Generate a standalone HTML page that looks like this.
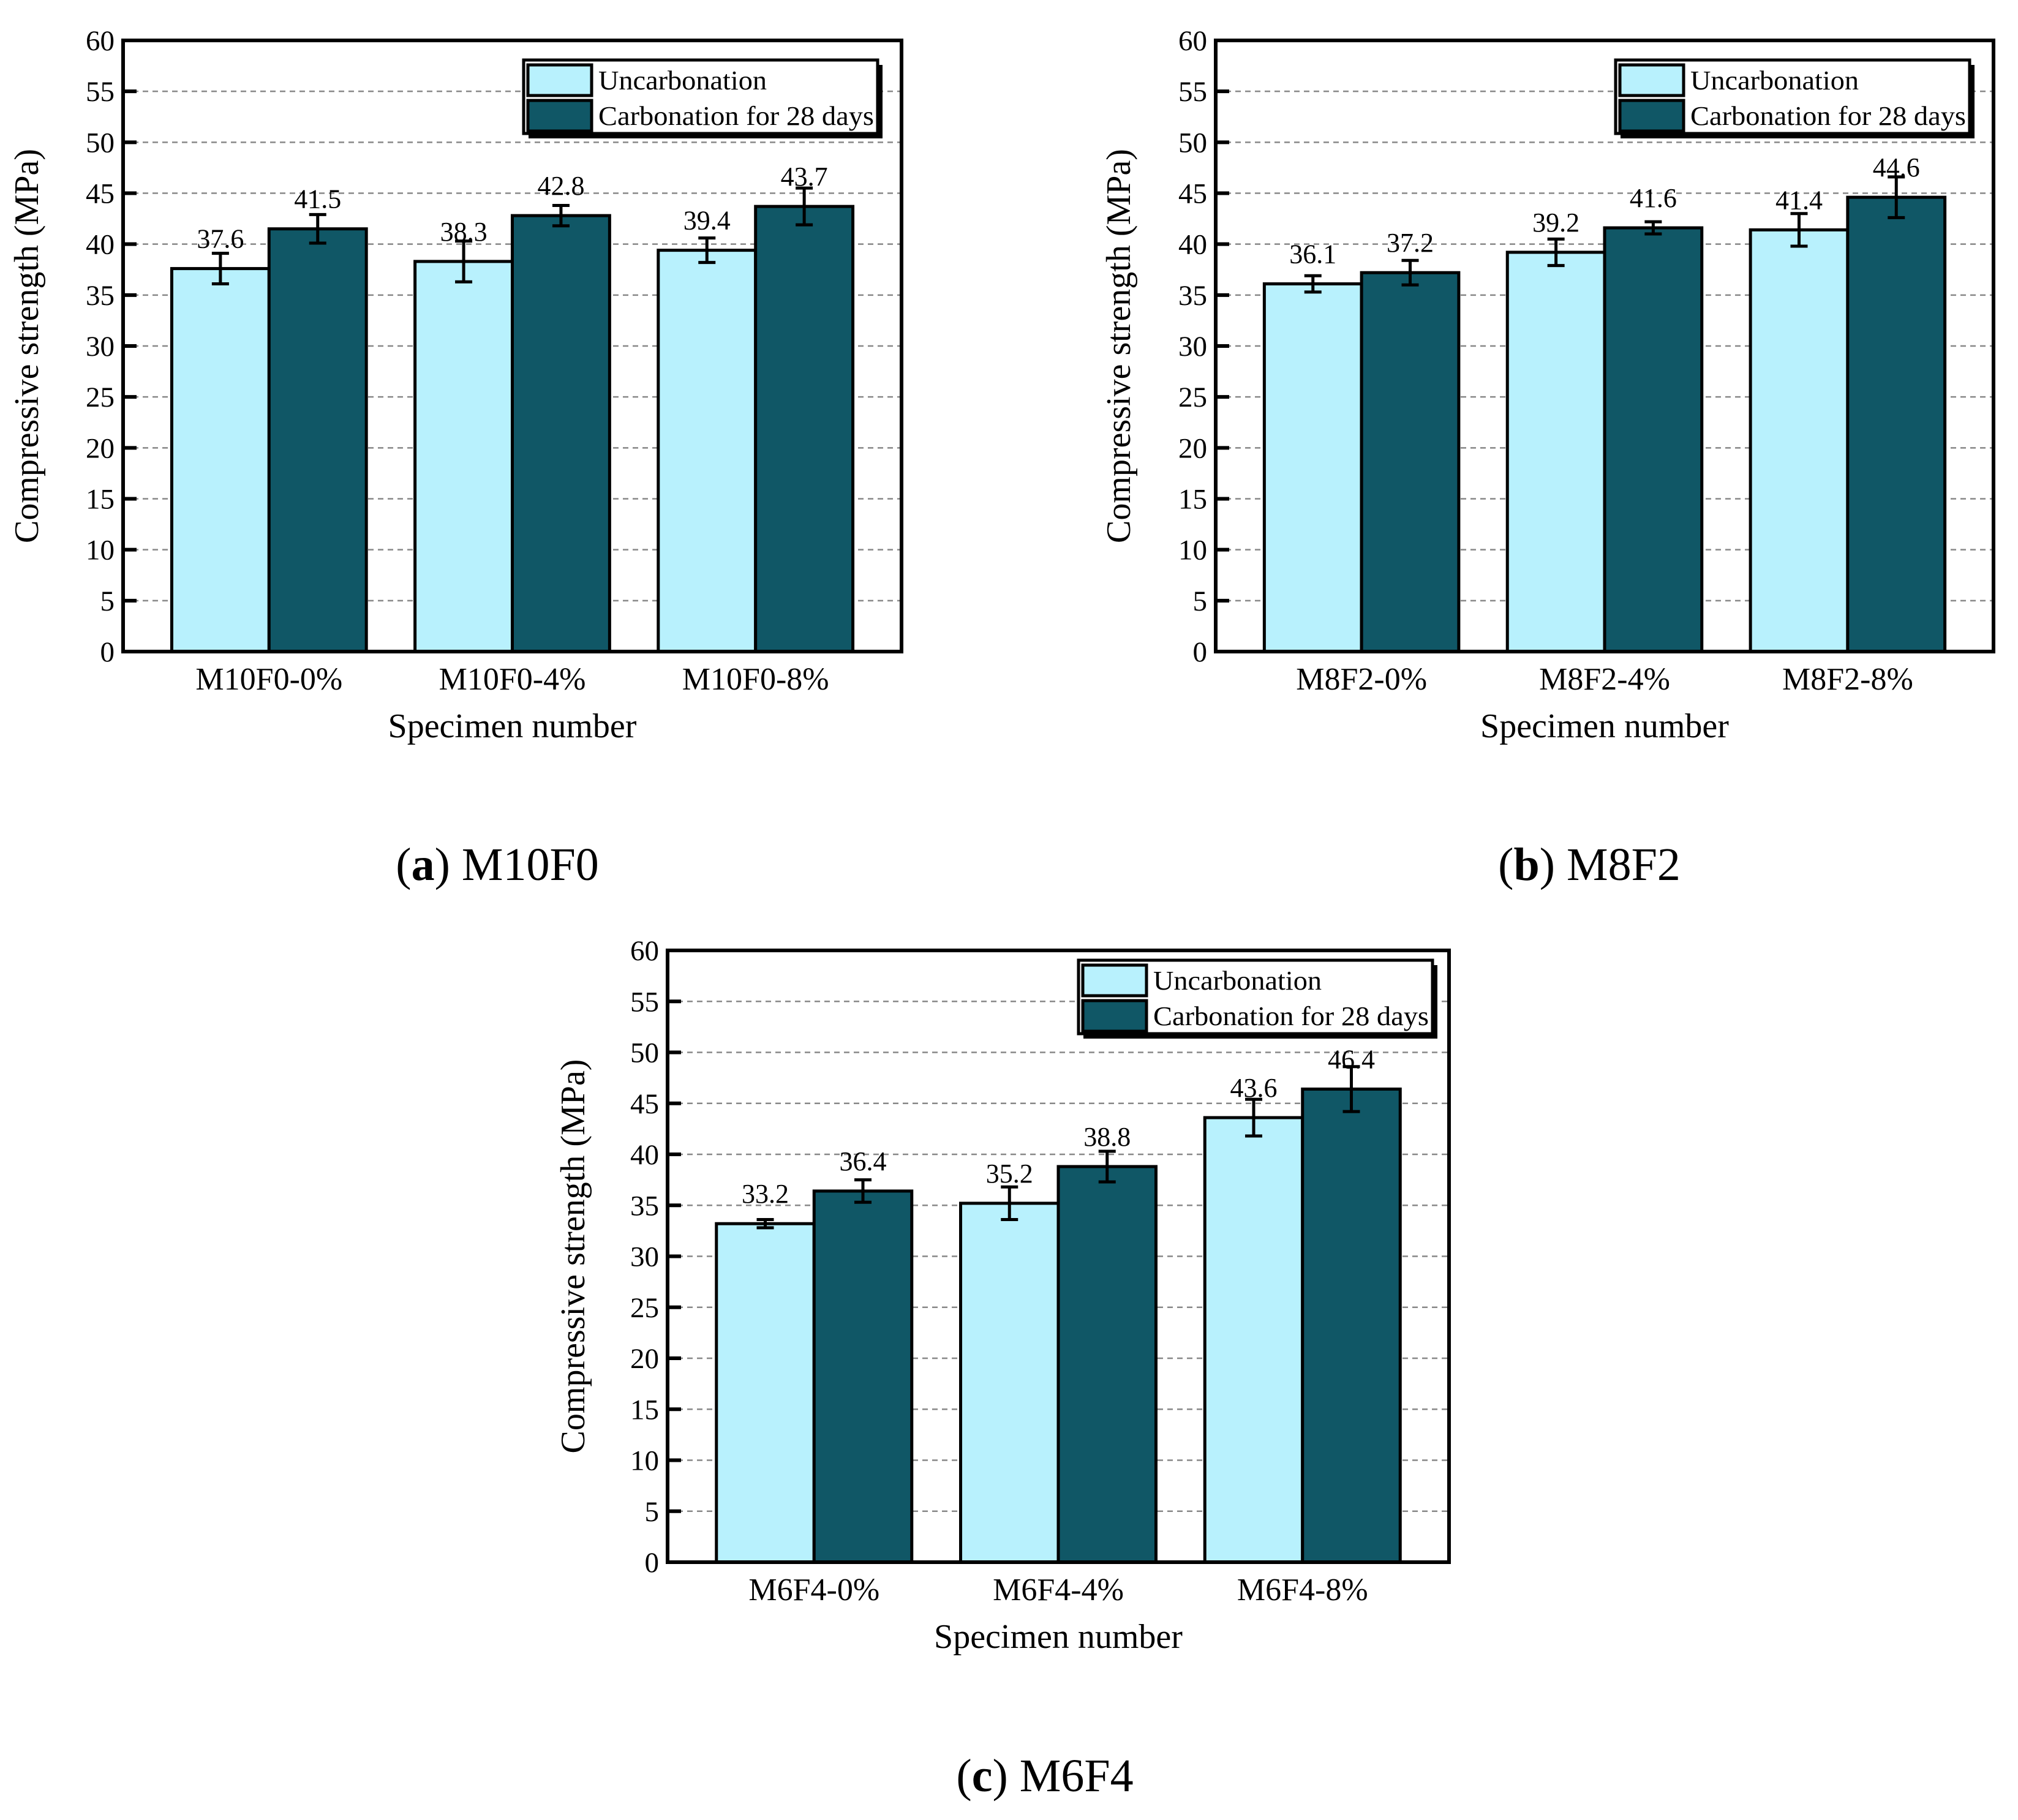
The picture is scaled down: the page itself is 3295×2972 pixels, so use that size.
<!DOCTYPE html>
<html><head><meta charset="utf-8"><style>
html,body{margin:0;padding:0;background:#fff}
svg{display:block;font-family:"Liberation Serif",serif}
</style></head><body>
<svg id="fig" width="3295" height="2972" viewBox="0 0 3295 2972" xmlns="http://www.w3.org/2000/svg">
<text x="812" y="1437" font-size="76" text-anchor="middle">(<tspan font-weight="bold">a</tspan>) M10F0</text>
<text x="2595" y="1437" font-size="76" text-anchor="middle">(<tspan font-weight="bold">b</tspan>) M8F2</text>
<text x="1706" y="2925" font-size="76" text-anchor="middle">(<tspan font-weight="bold">c</tspan>) M6F4</text>
</svg>
<script>
const catsA=["M10F0-0%","M10F0-4%","M10F0-8%"];
const uncA=[37.6,38.3,39.4];
const carA=[41.5,42.8,43.7];
const uncErrA=[1.5,2.0,1.2];
const carErrA=[1.4,1.0,1.8];
const catsB=["M8F2-0%","M8F2-4%","M8F2-8%"];
const uncB=[36.1,39.2,41.4];
const carB=[37.2,41.6,44.6];
const uncErrB=[0.8,1.3,1.6];
const carErrB=[1.2,0.6,2.0];
const catsC=["M6F4-0%","M6F4-4%","M6F4-8%"];
const uncC=[33.2,35.2,43.6];
const carC=[36.4,38.8,46.4];
const uncErrC=[0.4,1.6,1.8];
const carErrC=[1.1,1.5,2.2];
const yTicks=[0,5,10,15,20,25,30,35,40,45,50,55,60];
const legendLabels=["Uncarbonation","Carbonation for 28 days"];
const NS="http://www.w3.org/2000/svg";
const svg=document.getElementById('fig');
function mk(tag,attrs,parent,text){const e=document.createElementNS(NS,tag);for(const k in attrs)e.setAttribute(k,attrs[k]);if(text!==undefined)e.textContent=text;(parent||svg).appendChild(e);return e;}
function chart(id,L,R,T,B,cats,unc,car,ue,ce,legX,legY,yTitleX){
  const g=mk('g',{});
  
  
  const xs=v=>L+(v-0.4)/3.2*(R-L);
  const ys=v=>B-v/60*(B-T);
  yTicks.forEach(t=>{
    if(t>0&&t<60){const gl=mk('line',{x1:L,x2:R,y1:ys(t),y2:ys(t),stroke:'#888','stroke-width':2.5,'stroke-dasharray':'9,7'},g);
    
    }
    const tk=mk('line',{x1:L,x2:L+22,y1:ys(t),y2:ys(t),stroke:'#000','stroke-width':6},g);
    
    
    const tl=mk('text',{x:L-14,y:ys(t)+16,'font-size':47,'text-anchor':'end'},g,String(t));
    
    
  });
  const series=[[unc,ue,'#b8f1fd',-0.2],[car,ce,'#105766',0.2]];
  cats.forEach((c,i)=>{
    series.forEach((s,si)=>{
      const v=s[0][i],e=s[1][i],cx=xs(i+1+s[3]),w=xs(0.8)-xs(0.4);
      const r=mk('rect',{x:cx-w/2,y:ys(v),width:w,height:B-ys(v),fill:s[2],stroke:'#000','stroke-width':5},g);
      
      
      const eb=mk('path',{d:`M${cx},${ys(v+e)}V${ys(v-e)}M${cx-14},${ys(v+e)}H${cx+14}M${cx-14},${ys(v-e)}H${cx+14}`,stroke:'#000','stroke-width':5,fill:'none'},g);
      
      
      const vl=mk('text',{x:cx,y:ys(v)-34,'font-size':44,'text-anchor':'middle'},g,v.toFixed(1));
      
      
    });
    const xl=mk('text',{x:xs(i+1),y:B+62,'font-size':52,'text-anchor':'middle'},g,c);
    
    
  });
  const fr=mk('rect',{x:L,y:T,width:R-L,height:B-T,fill:'none',stroke:'#000','stroke-width':6},g);
  
  
  const xt=mk('text',{x:(L+R)/2,y:B+140,'font-size':56,'text-anchor':'middle'},g,'Specimen number');
  
  
  const yt=mk('text',{x:yTitleX,y:(T+B)/2,'font-size':56,'text-anchor':'middle',transform:`rotate(-90 ${yTitleX} ${(T+B)/2})`},g,'Compressive strength (MPa)');
  
  
  const lg=mk('g',{},g);
  
  
  mk('rect',{x:legX+8,y:legY+8,width:578,height:120,fill:'#000'},lg);
  mk('rect',{x:legX,y:legY,width:578,height:120,fill:'#fff',stroke:'#000','stroke-width':5},lg);
  legendLabels.forEach((t,i)=>{
    const sw=mk('rect',{x:legX+7,y:legY+8+i*58,width:104,height:50,fill:i?'#105766':'#b8f1fd',stroke:'#000','stroke-width':5},lg);
    
    
    const attrs={x:legX+122,y:legY+48+i*58,'font-size':44};
    if(i===1){attrs.textLength=450;attrs.lengthAdjust='spacingAndGlyphs';}
    else{attrs.textLength=275;attrs.lengthAdjust='spacingAndGlyphs';}
    const lt=mk('text',attrs,lg,t);
    
    
  });
}
chart('chart-m10f0',201,1472,66,1064,catsA,uncA,carA,uncErrA,carErrA,855,98,62);
chart('chart-m8f2',1985,3255,66,1064,catsB,uncB,carB,uncErrB,carErrB,2638,98,1845);
chart('chart-m6f4',1090,2366,1552,2551,catsC,uncC,carC,uncErrC,carErrC,1761,1568,954);
</script>
</body></html>
